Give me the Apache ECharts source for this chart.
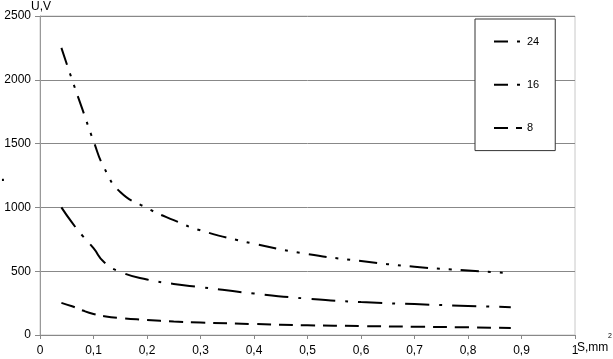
<!DOCTYPE html>
<html><head><meta charset="utf-8">
<script src="https://cdn.jsdelivr.net/npm/echarts@6/dist/echarts.min.js"></script>
<style>html,body{margin:0;padding:0;background:#fff}#c{width:613px;height:359px}</style>
</head><body><div id="c"></div>
<script>
var sValues = [0.04, 0.06, 0.08, 0.1, 0.12, 0.15, 0.2, 0.25, 0.3, 0.4, 0.5, 0.6, 0.7, 0.8, 0.88];
var u24 = [2250, 2000, 1760, 1520, 1310, 1120, 995, 900, 820, 715, 635, 580, 535, 505, 485];
var u16 = [1000, 880, 775, 680, 570, 495, 435, 400, 375, 325, 285, 258, 242, 228, 218];
var u8 = [252, 225, 192, 165, 147, 132, 118, 105, 97, 86, 76, 70, 65, 60, 55];
var seriesNames = ['24', '16', '8'];
var yTicks = [0, 500, 1000, 1500, 2000, 2500];

function pairs(ys){ return sValues.map(function(x,i){ return [x, ys[i]]; }); }

var chart = echarts.init(document.getElementById('c'), null, {renderer:'canvas'});
var font = 'Liberation Sans, Arial, sans-serif';
var hidden = {color: 'rgba(0,0,0,0)', borderWidth: 0, opacity: 0};
chart.setOption({
  animation: false,
  backgroundColor: '#fff',
  grid: {left: 40, right: 38, top: 16, bottom: 24, show: true, borderColor: '#c8c8c8', borderWidth: 1},
  xAxis: {
    type: 'value', min: 0, max: 1, interval: 0.1,
    axisLine: {show: true, onZero: false, lineStyle: {color: '#888', width: 1}},
    axisTick: {show: true, length: 4, lineStyle: {color: '#888'}},
    splitLine: {show: false},
    axisLabel: {color: '#000', fontFamily: font, fontSize: 12, margin: 10,
      formatter: function(v){ return (Math.round(v*10)/10).toString().replace('.', ','); }}
  },
  yAxis: {
    type: 'value', min: yTicks[0], max: yTicks[yTicks.length-1], interval: 500,
    axisLine: {show: true, lineStyle: {color: '#999', width: 1}},
    axisTick: {show: true, length: 5, lineStyle: {color: '#888'}},
    splitLine: {show: true, lineStyle: {color: '#888', width: 1}},
    axisLabel: {color: '#000', fontFamily: font, fontSize: 12, margin: 9,
      formatter: function(v){ return String(v); }}
  },
  legend: {
    orient: 'vertical', left: 475, top: 19,
    padding: [17, 16, 17, 18], itemGap: 32, itemWidth: 28, itemHeight: 14,
    backgroundColor: '#fff', borderColor: '#333', borderWidth: 1,
    textStyle: {color: '#000', fontFamily: font, fontSize: 11},
    itemStyle: hidden,
    data: [
      {name: '24', itemStyle: hidden, lineStyle: {type: [14, 9, 3, 50], width: 2, color: '#000'}},
      {name: '16', itemStyle: hidden, lineStyle: {type: [14, 9, 3, 50], width: 2, color: '#000'}},
      {name: '8', itemStyle: hidden, lineStyle: {type: [14, 8, 8, 50], width: 2, color: '#000'}}
    ]
  },
  series: [
    {name: seriesNames[0], type: 'line', data: pairs(u24), smooth: true, symbol: 'none',
      lineStyle: {color: '#000', width: 2, type: [18, 9, 3, 9, 3, 9]}, itemStyle: {color: '#000'}},
    {name: seriesNames[1], type: 'line', data: pairs(u16), smooth: true, symbol: 'none',
      lineStyle: {color: '#000', width: 2, type: [24, 10, 3, 10]}, itemStyle: {color: '#000'}},
    {name: seriesNames[2], type: 'line', data: pairs(u8), smooth: true, symbol: 'none',
      lineStyle: {color: '#000', width: 2, type: [14, 8]}, itemStyle: {color: '#000'}}
  ],
  graphic: [
    {type: 'text', left: 31, top: 1, style: {text: 'U,V', fill: '#000', font: '12px ' + font}},
    {type: 'text', left: 577, top: 342, style: {text: 'S,mm', fill: '#000', font: '12px ' + font}},
    {type: 'text', left: 608, top: 333, style: {text: '2', fill: '#000', font: '7px ' + font}},
    {type: 'text', left: 1, top: 170, style: {text: '.', fill: '#000', font: 'bold 14px ' + font}}
  ]
});
</script></body></html>
